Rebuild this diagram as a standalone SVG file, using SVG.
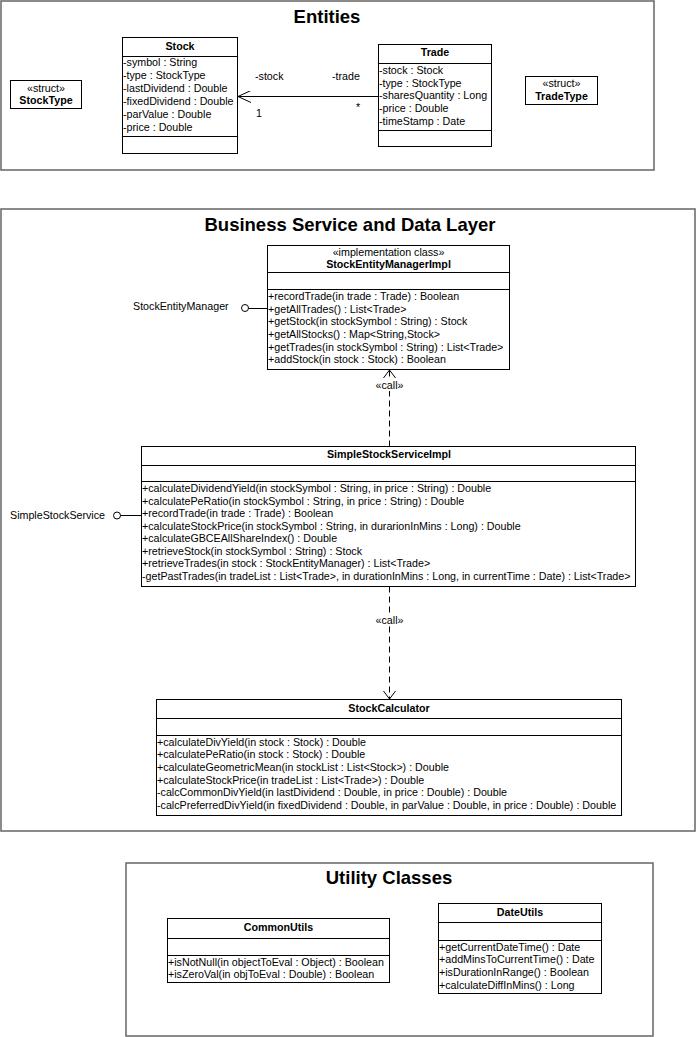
<svg xmlns="http://www.w3.org/2000/svg" width="700" height="1037" viewBox="0 0 700 1037">
<style>
text{font-family:"Liberation Sans",Arial,sans-serif;font-size:10.7px;fill:#000}
.t{font-size:18.5px;font-weight:bold;text-anchor:middle}
.b{font-weight:bold;text-anchor:middle}
.c{text-anchor:middle}
.frame{fill:#fff;stroke:#6e6e6e;stroke-width:1.6}
.box{fill:#fff;stroke:#000;stroke-width:1}
.ln{stroke:#000;stroke-width:1;fill:none}
.dash{stroke:#000;stroke-width:1;fill:none;stroke-dasharray:6,4}
.bg{fill:#fff;stroke:none}
</style>
<defs>
<marker id="open" viewBox="0 0 14 12" refX="13" refY="6" markerWidth="14" markerHeight="12" markerUnits="userSpaceOnUse" orient="auto">
<path d="M0,0 L13,6 L0,12" fill="none" stroke="#000" stroke-width="1"/>
</marker>
<marker id="dep" viewBox="0 0 9 13" refX="8" refY="6.5" markerWidth="9" markerHeight="13" markerUnits="userSpaceOnUse" orient="auto">
<path d="M0,0.5 L8,6.5 L0,12.5" fill="none" stroke="#000" stroke-width="1"/>
</marker>
</defs>
<rect width="700" height="1037" fill="#fff"/>
<g id="frames">
<rect class="frame" x="1" y="1" width="653" height="169"/>
<text class="t" x="327" y="23">Entities</text>
<rect class="frame" x="1" y="209" width="694" height="622"/>
<text class="t" x="350" y="231">Business Service and Data Layer</text>
<rect class="frame" x="126" y="863" width="527" height="173"/>
<text class="t" x="389" y="884">Utility Classes</text>
</g>
<g id="StockType">
<rect class="box" x="10.5" y="80.5" width="71" height="28"/>
<text class="c" x="46" y="91.5">«struct»</text>
<text class="b" x="46" y="104">StockType</text>
</g>
<g id="Stock">
<rect class="box" x="122.5" y="37.5" width="115" height="116"/>
<line class="ln" x1="122.5" y1="56.5" x2="237.5" y2="56.5"/>
<line class="ln" x1="122.5" y1="136.5" x2="237.5" y2="136.5"/>
<text class="b" x="180" y="50">Stock</text>
<text x="123" y="66">-symbol : String</text>
<text x="123" y="79">-type : StockType</text>
<text x="123" y="92">-lastDividend : Double</text>
<text x="123" y="105">-fixedDividend : Double</text>
<text x="123" y="118">-parValue : Double</text>
<text x="123" y="130.5">-price : Double</text>
</g>
<g id="Trade">
<rect class="box" x="378.5" y="44.5" width="113" height="102"/>
<line class="ln" x1="378.5" y1="63.5" x2="491.5" y2="63.5"/>
<line class="ln" x1="378.5" y1="130.5" x2="491.5" y2="130.5"/>
<text class="b" x="435" y="56">Trade</text>
<text x="379" y="74">-stock : Stock</text>
<text x="379" y="86.5">-type : StockType</text>
<text x="379" y="99">-sharesQuantity : Long</text>
<text x="379" y="112">-price : Double</text>
<text x="379" y="124.5">-timeStamp : Date</text>
</g>
<g id="TradeType">
<rect class="box" x="525.5" y="76.5" width="72" height="28"/>
<text class="c" x="561.5" y="86.5">«struct»</text>
<text class="b" x="561.5" y="99.5">TradeType</text>
</g>
<g id="StockEntityManagerImpl">
<rect class="box" x="267.5" y="245.5" width="242" height="124"/>
<line class="ln" x1="267.5" y1="272.5" x2="509.5" y2="272.5"/>
<line class="ln" x1="267.5" y1="289.5" x2="509.5" y2="289.5"/>
<text class="c" x="388.5" y="255.5">«implementation class»</text>
<text class="b" x="388.5" y="268">StockEntityManagerImpl</text>
<text x="268" y="300">+recordTrade(in trade : Trade) : Boolean</text>
<text x="268" y="312.5">+getAllTrades() : List&lt;Trade&gt;</text>
<text x="268" y="325">+getStock(in stockSymbol : String) : Stock</text>
<text x="268" y="338">+getAllStocks() : Map&lt;String,Stock&gt;</text>
<text x="268" y="350.5">+getTrades(in stockSymbol : String) : List&lt;Trade&gt;</text>
<text x="268" y="363">+addStock(in stock : Stock) : Boolean</text>
</g>
<g id="StockEntityManager">
<text x="133" y="310">StockEntityManager</text>
<circle cx="245" cy="308" r="3.5" fill="#fff" stroke="#000" stroke-width="1"/>
</g>
<g id="SimpleStockServiceImpl">
<rect class="box" x="141.5" y="446.5" width="494" height="140"/>
<line class="ln" x1="141.5" y1="465.5" x2="635.5" y2="465.5"/>
<line class="ln" x1="141.5" y1="481.5" x2="635.5" y2="481.5"/>
<text class="b" x="389" y="457.5">SimpleStockServiceImpl</text>
<text x="142" y="492">+calculateDividendYield(in stockSymbol : String, in price : String) : Double</text>
<text x="142" y="504.5">+calculatePeRatio(in stockSymbol : String, in price : String) : Double</text>
<text x="142" y="517">+recordTrade(in trade : Trade) : Boolean</text>
<text x="142" y="529.7">+calculateStockPrice(in stockSymbol : String, in durarionInMins : Long) : Double</text>
<text x="142" y="542.3">+calculateGBCEAllShareIndex() : Double</text>
<text x="142" y="554.8">+retrieveStock(in stockSymbol : String) : Stock</text>
<text x="142" y="567.4">+retrieveTrades(in stock : StockEntityManager) : List&lt;Trade&gt;</text>
<text x="142" y="580">-getPastTrades(in tradeList : List&lt;Trade&gt;, in durationInMins : Long, in currentTime : Date) : List&lt;Trade&gt;</text>
</g>
<g id="SimpleStockService">
<text x="10" y="518.5">SimpleStockService</text>
<circle cx="117" cy="515.5" r="3.5" fill="#fff" stroke="#000" stroke-width="1"/>
</g>
<g id="StockCalculator">
<rect class="box" x="156.5" y="699.5" width="465" height="116"/>
<line class="ln" x1="156.5" y1="718.5" x2="621.5" y2="718.5"/>
<line class="ln" x1="156.5" y1="735.5" x2="621.5" y2="735.5"/>
<text class="b" x="389" y="712">StockCalculator</text>
<text x="157" y="745.5">+calculateDivYield(in stock : Stock) : Double</text>
<text x="157" y="758">+calculatePeRatio(in stock : Stock) : Double</text>
<text x="157" y="771">+calculateGeometricMean(in stockList : List&lt;Stock&gt;) : Double</text>
<text x="157" y="783.5">+calculateStockPrice(in tradeList : List&lt;Trade&gt;) : Double</text>
<text x="157" y="796.3">-calcCommonDivYield(in lastDividend : Double, in price : Double) : Double</text>
<text x="157" y="809">-calcPreferredDivYield(in fixedDividend : Double, in parValue : Double, in price : Double) : Double</text>
</g>
<g id="CommonUtils">
<rect class="box" x="167.5" y="918.5" width="222" height="64"/>
<line class="ln" x1="167.5" y1="938.5" x2="389.5" y2="938.5"/>
<line class="ln" x1="167.5" y1="955.5" x2="389.5" y2="955.5"/>
<text class="b" x="278.5" y="931">CommonUtils</text>
<text x="168" y="965.5">+isNotNull(in objectToEval : Object) : Boolean</text>
<text x="168" y="978">+isZeroVal(in objToEval : Double) : Boolean</text>
</g>
<g id="DateUtils">
<rect class="box" x="438.5" y="903.5" width="163" height="90"/>
<line class="ln" x1="438.5" y1="922.5" x2="601.5" y2="922.5"/>
<line class="ln" x1="438.5" y1="940.5" x2="601.5" y2="940.5"/>
<text class="b" x="520" y="916">DateUtils</text>
<text x="439" y="950.7">+getCurrentDateTime() : Date</text>
<text x="439" y="963.3">+addMinsToCurrentTime() : Date</text>
<text x="439" y="976">+isDurationInRange() : Boolean</text>
<text x="439" y="988.7">+calculateDiffInMins() : Long</text>
</g>
<g id="connectors">
<line class="ln" x1="378.5" y1="96.5" x2="238" y2="96.5" marker-end="url(#open)"/>
<text x="255" y="79.5">-stock</text>
<text x="256" y="116.5">1</text>
<text x="332" y="79.5">-trade</text>
<text x="356" y="111">*</text>
<line class="ln" x1="248.5" y1="308.5" x2="267.5" y2="308.5"/>
<line class="ln" x1="120.5" y1="515.5" x2="141.5" y2="515.5"/>
<line class="dash" x1="389.5" y1="446.5" x2="389.5" y2="370" marker-end="url(#dep)"/>
<rect class="bg" x="373" y="379" width="33" height="12"/>
<text class="c" x="389.5" y="388.5">«call»</text>
<line class="dash" x1="389.5" y1="586.5" x2="389.5" y2="699" marker-end="url(#dep)"/>
<rect class="bg" x="373" y="614" width="33" height="12"/>
<text class="c" x="389.5" y="623.5">«call»</text>
</g>
</svg>
